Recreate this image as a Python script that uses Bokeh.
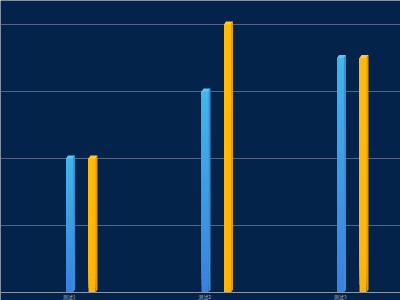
from bokeh.plotting import figure
from bokeh.models import Grid, FixedTicker, Span, Range1d
from bokeh.core.properties import value
from bokeh.embed import file_html
from bokeh.resources import INLINE

# chart data
categories = ["测试1", "测试2", "测试3"]
series_a = [100, 150, 175]
series_b = [100, 200, 175]
grid_values = [50, 100, 150, 200]

W, H = 400, 300
PX_X = 135.5          # pixels per category
PX_Y = 1.34           # pixels per value unit
BASE_PX = 292         # pixel row of the zero line
LEFT_PX = 70          # pixel column of the first category

x0 = -LEFT_PX / PX_X
y0 = -(H - BASE_PX) / PX_Y
p = figure(width=W, height=H, output_backend="svg", toolbar_location=None,
           x_range=Range1d(x0, x0 + W / PX_X), y_range=Range1d(y0, y0 + H / PX_Y),
           x_axis_location=None, y_axis_location=None, min_border=0)
p.background_fill_color = "#03234B"
p.border_fill_color = "#03234B"
p.outline_line_color = None
p.grid.visible = False

grid = Grid(dimension=1, ticker=FixedTicker(ticks=grid_values),
            grid_line_color="#6a7e9c", grid_line_alpha=0.75, grid_line_width=1)
p.add_layout(grid)
p.add_layout(Span(location=0, dimension="width", line_color="#8c98ab", line_width=1))


def mix(c1, c2, t):
    a = [int(c1[i:i + 2], 16) for i in (1, 3, 5)]
    b = [int(c2[i:i + 2], 16) for i in (1, 3, 5)]
    return "#%02x%02x%02x" % tuple(round(a[k] + (b[k] - a[k]) * t) for k in range(3))


FRONT_W = 7 / PX_X
SIDE_W = 2 / PX_X
DEPTH = 3 / PX_Y
N = 30


def bar3d(xc, v, top_col, bot_col, side_col, cap_col):
    xl = xc - (FRONT_W + SIDE_W) / 2
    xr = xl + FRONT_W
    # front face: stacked overlapping bands give a vertical gradient
    l, r, b, t, cols = [], [], [], [], []
    for i in range(N):
        l.append(xl); r.append(xr)
        b.append(v * i / N); t.append(v)
        cols.append(mix(bot_col, top_col, (i + 0.5) / N))
    p.quad(left=l, right=r, bottom=b, top=t, fill_color=cols, line_color=None)
    # side face
    p.patch([xr, xr + SIDE_W, xr + SIDE_W, xr], [0, DEPTH, v + DEPTH, v],
            fill_color=side_col, line_color=None)
    # top cap
    p.patch([xl, xr, xr + SIDE_W, xl + SIDE_W], [v, v, v + DEPTH, v + DEPTH],
            fill_color=cap_col, line_color=None)


OFF_B = 22.5 / PX_X
for i, (a, b) in enumerate(zip(series_a, series_b)):
    bar3d(i + 0.0, a, "#42b6e9", "#3a80e0", "#3a8fd6", "#5cc6f2")
    bar3d(i + OFF_B, b, "#ffb90d", "#ffb40b", "#e29c06", "#ffc83a")

p.text(x=[i - 0.01 for i in range(len(categories))], y=[-3.2] * len(categories),
       text=categories, text_font=value("Noto Sans CJK SC"), text_font_size="5px",
       text_color="#a9b3c2", text_align="center", text_baseline="middle")

open("out.html", "w").write(file_html(p, INLINE))
